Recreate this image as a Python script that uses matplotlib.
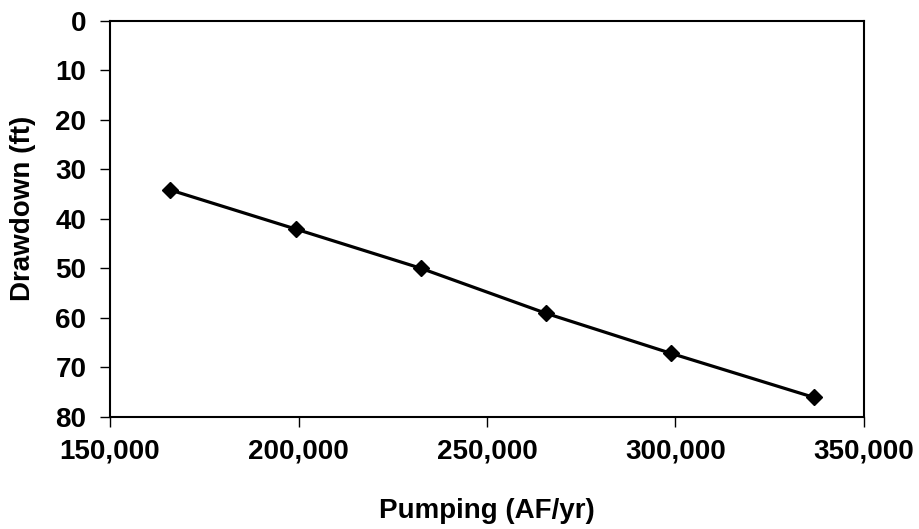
import matplotlib
matplotlib.use('Agg')
import matplotlib.pyplot as plt
from matplotlib.ticker import FuncFormatter

# Data
pumping = [166000, 199300, 232400, 265600, 298800, 336700]   # AF/yr
drawdown = [34.2, 42.1, 50.0, 59.1, 67.2, 76.1]               # ft

x_ticks = [150000, 200000, 250000, 300000, 350000]
y_ticks = [0, 10, 20, 30, 40, 50, 60, 70, 80]

plt.rcParams['font.family'] = ['Liberation Sans', 'DejaVu Sans']
plt.rcParams['font.weight'] = 'bold'

fig = plt.figure(figsize=(9.19, 5.29), dpi=100)
ax = fig.add_axes([110 / 919, 1 - 416.7 / 529, (864 - 110) / 919, (416.7 - 20.7) / 529])

ax.plot(pumping, drawdown, color='black', linewidth=2.3, marker='D', markersize=8.5,
        markerfacecolor='black', markeredgecolor='black')

ax.set_xlim(150000, 350000)
ax.set_ylim(80, 0)
ax.set_xticks(x_ticks)
ax.set_yticks(y_ticks)
ax.xaxis.set_major_formatter(FuncFormatter(lambda v, p: f'{int(v):,}'))

for s in ax.spines.values():
    s.set_linewidth(1.5)
    s.set_color('black')

ax.tick_params(axis='both', direction='out', length=7, width=1, labelsize=20, color='black')
ax.tick_params(axis='x', pad=9)
ax.tick_params(axis='y', pad=10)
for lbl in ax.get_xticklabels() + ax.get_yticklabels():
    lbl.set_fontweight('bold')

ax.set_xlabel('Pumping (AF/yr)', fontsize=20, fontweight='bold', labelpad=24)
ax.set_ylabel('Drawdown (ft)', fontsize=20, fontweight='bold')
ax.yaxis.set_label_coords(-0.098, 0.527)

plt.savefig('out.png', dpi=100)
